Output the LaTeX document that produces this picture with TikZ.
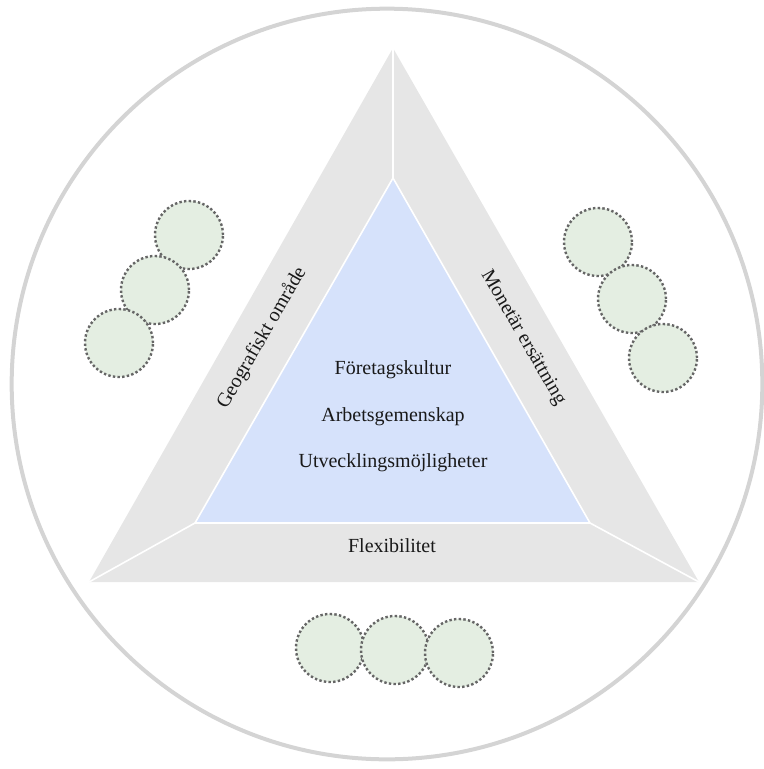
\documentclass[tikz,border=0pt]{standalone}
\usepackage{fontspec}
\setmainfont{Liberation Serif}
\definecolor{ringgray}{HTML}{D4D4D4}
\definecolor{bandgray}{HTML}{E6E6E6}
\definecolor{coreblue}{HTML}{D6E2FB}
\definecolor{bubblegreen}{HTML}{E4EEE2}
\definecolor{dotgray}{HTML}{666666}
\tikzset{
  bubble/.style={circle,draw=dotgray,fill=bubblegreen,line width=1.8pt,
    dash pattern=on 1.8pt off 1.7pt,minimum size=51pt,inner sep=0pt},
  factor/.style={font=\fontsize{15}{18}\selectfont,text=black!90,inner sep=1pt}
}

\begin{document}
\begin{tikzpicture}[x=0.75pt,y=-0.75pt]
            \useasboundingbox (0,0) rectangle (764,769);
            \draw[ringgray,line width=3pt] (387,384) circle [radius=281.5pt];

            \coordinate (otop) at (393,48);
            \coordinate (oleft) at (89,582);
            \coordinate (oright) at (699,582);
            \coordinate (itop) at (393,178);
            \coordinate (ileft) at (195,523);
            \coordinate (iright) at (590,523);

            \fill[bandgray] (otop)--(oleft)--(oright)--cycle;
            \draw[white,line width=1.2pt,fill=coreblue] (itop)--(ileft)--(iright)--cycle;
            \draw[white,line width=1.2pt] (itop)--(otop);
            \draw[white,line width=1.2pt] (ileft)--(oleft);
            \draw[white,line width=1.2pt] (iright)--(oright);

            \node[factor,rotate=60] (geo) at (262,338) {Geografiskt område};
            \node[factor,rotate=-60] (mon) at (523,338) {Monetär ersättning};
            \node[factor] (flex) at (392,546) {Flexibilitet};
            \node[factor] (kultur) at (393,370) {Företagskultur};
            \node[factor] (gemenskap) at (393,417) {Arbetsgemenskap};
            \node[factor] (utveckling) at (393,463) {Utvecklingsmöjligheter};

            % left group
            \node[bubble] (l1) at (189,235) {};
            \node[bubble] (l2) at (155,290) {};
            \node[bubble] (l3) at (119,343) {};
            % right group
            \node[bubble] (r1) at (598,242) {};
            \node[bubble] (r2) at (632,299) {};
            \node[bubble] (r3) at (663,358) {};
            % bottom group
            \node[bubble] (b1) at (330,648) {};
            \node[bubble] (b2) at (395,650) {};
            \node[bubble] (b3) at (459,653) {};
        \end{tikzpicture}
\end{document}
